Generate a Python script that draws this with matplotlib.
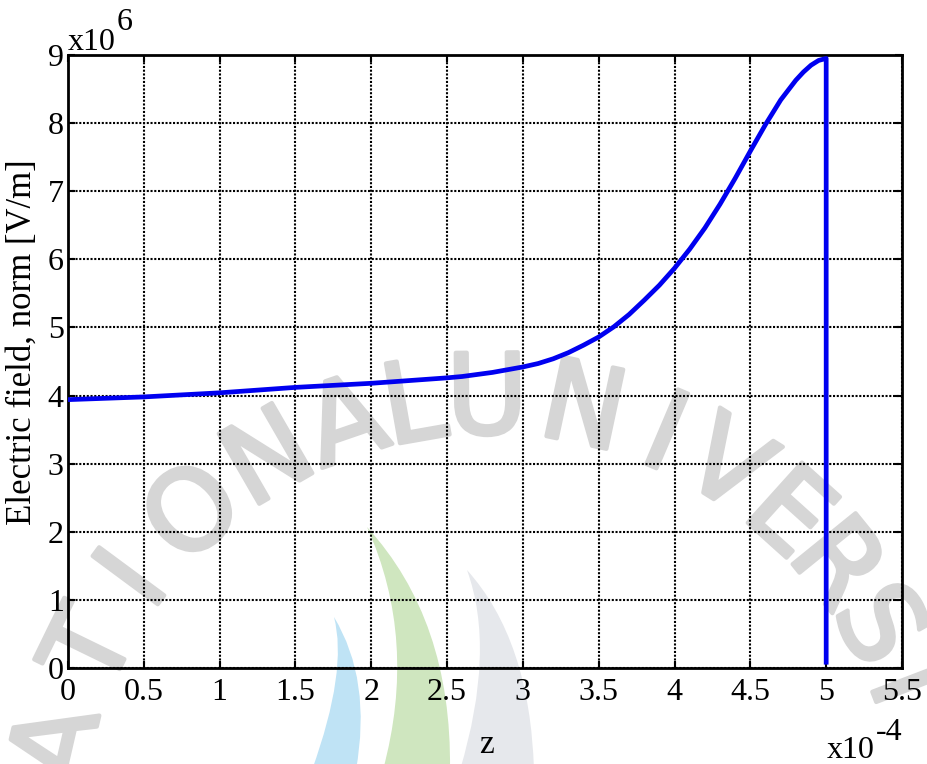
"""
Electric field norm along z, with the sharp drop at the end of the gap.
"""

import numpy as np
import matplotlib.pyplot as plt
import matplotlib.patheffects as pe
from matplotlib.path import Path
from matplotlib.patches import PathPatch

# z position (x1e-4 m) and field norm (x1e6 V/m)
z_pos = [0.0, 0.25, 0.5, 0.75, 1.0, 1.25, 1.5, 1.75, 2.0, 2.25, 2.5,
         2.6, 2.7, 2.8, 2.9, 3.0, 3.1, 3.2, 3.3, 3.4, 3.5, 3.6, 3.7,
         3.8, 3.9, 4.0, 4.1, 4.2, 4.3, 4.4, 4.5, 4.6, 4.7, 4.8, 4.85, 4.9,
         4.95, 5.0, 5.0]
e_norm = [3.94, 3.96, 3.98, 4.01, 4.04, 4.08, 4.12, 4.15, 4.18, 4.22, 4.26,
          4.28, 4.31, 4.34, 4.38, 4.42, 4.47, 4.54, 4.63, 4.74, 4.86, 5.01, 5.19,
          5.40, 5.62, 5.87, 6.15, 6.46, 6.81, 7.19, 7.59, 7.98, 8.34, 8.63, 8.75, 8.85,
          8.92, 8.95, 0.05]

x_ticks = [0, 0.5, 1, 1.5, 2, 2.5, 3, 3.5, 4, 4.5, 5, 5.5]
x_tick_labels = ['0', '0.5', '1', '1.5', '2', '2.5', '3', '3.5', '4', '4.5', '5', '5.5']
y_ticks = [0, 1, 2, 3, 4, 5, 6, 7, 8, 9]

W, H = 927, 764
SERIF = 'Liberation Serif'

fig = plt.figure(figsize=(W / 100, H / 100), dpi=100)
fig.patch.set_facecolor('white')


def px(x, y):
    # pixel position -> figure fraction
    return x / W, 1 - y / H


# --- faint watermark behind the axes ---
wm_letters = list('ATIONAL UNIVERSI')
wm_angles = [77, 64, 53.5, 42, 30, 19, 10, None, 0.5, -12, -23, -32,
             -42, -51, -60.5, -69]
wm_color = '#d6d6d6'
cx, cy, rad = 491, 844, 441
for ch, ang in zip(wm_letters, wm_angles):
    if ang is None:
        continue
    a = np.radians(ang)
    lx = cx - rad * np.sin(a)
    ly = cy - rad * np.cos(a)
    fx, fy = px(lx, ly)
    fig.text(fx, fy, ch, fontsize=80, family='DejaVu Sans',
             color=wm_color, rotation=ang, ha='center', va='center',
             rotation_mode='anchor', zorder=-2,
             path_effects=[pe.withStroke(linewidth=3, foreground=wm_color)])


def crescent(tip, right_ctrl, right_end, left_end, left_ctrl, color):
    pts = [tip, right_ctrl, right_end, left_end, left_ctrl, tip]
    verts = [px(*p) for p in pts]
    codes = [Path.MOVETO, Path.CURVE3, Path.CURVE3, Path.LINETO,
             Path.CURVE3, Path.CURVE3]
    patch = PathPatch(Path(verts, codes), facecolor=color, edgecolor='none',
                      transform=fig.transFigure, zorder=-2)
    fig.add_artist(patch)


crescent((334, 617), (372, 680), (356, 770), (312, 770), (348, 670), '#bfe3f5')
crescent((367, 527), (452, 620), (450, 770), (383, 770), (418, 640), '#cfe6bf')
crescent((467, 570), (530, 640), (534, 770), (460, 770), (496, 650), '#e6e8ec')

# --- main axes ---
ax = fig.add_axes([68 / W, 1 - 668 / H, (902 - 68) / W, (668 - 55) / H])
ax.set_facecolor('none')

ax.plot(z_pos, e_norm, color='#0000f0', linewidth=3.4, solid_capstyle='butt',
        solid_joinstyle='round', zorder=3)

ax.set_xlim(0, 5.5)
ax.set_ylim(0, 9)
ax.set_xticks(x_ticks)
ax.set_xticklabels(x_tick_labels)
ax.set_yticks(y_ticks)

ax.grid(True, color='black', linestyle=(0, (1, 0.8)), linewidth=1.5)
ax.set_axisbelow(True)

for side in ax.spines.values():
    side.set_linewidth(2)
    side.set_color('black')

ax.tick_params(axis='both', direction='in', length=5, width=1.5,
               top=True, right=True, labelsize=23)
ax.tick_params(axis='x', pad=7)
ax.tick_params(axis='y', pad=3)
for lab in ax.get_xticklabels() + ax.get_yticklabels():
    lab.set_family(SERIF)

# axis labels and exponent markers
fx, fy = px(22, 342)
fig.text(fx, fy, 'Electric field, norm [V/m]', family=SERIF, fontsize=25,
         rotation=90, ha='center', va='center')
fx, fy = px(486, 753)
fig.text(fx, fy, 'z', family=SERIF, fontsize=24, ha='center', va='baseline')

fx, fy = px(68, 50)
fig.text(fx, fy, 'x10', family=SERIF, fontsize=23, ha='left', va='baseline')
fx, fy = px(117, 30)
fig.text(fx, fy, '6', family=SERIF, fontsize=23, ha='left', va='baseline')

fx, fy = px(827, 758)
fig.text(fx, fy, 'x10', family=SERIF, fontsize=23, ha='left', va='baseline')
fx, fy = px(876, 740)
fig.text(fx, fy, '-4', family=SERIF, fontsize=23, ha='left', va='baseline')

fig.savefig('out.png', dpi=100)
